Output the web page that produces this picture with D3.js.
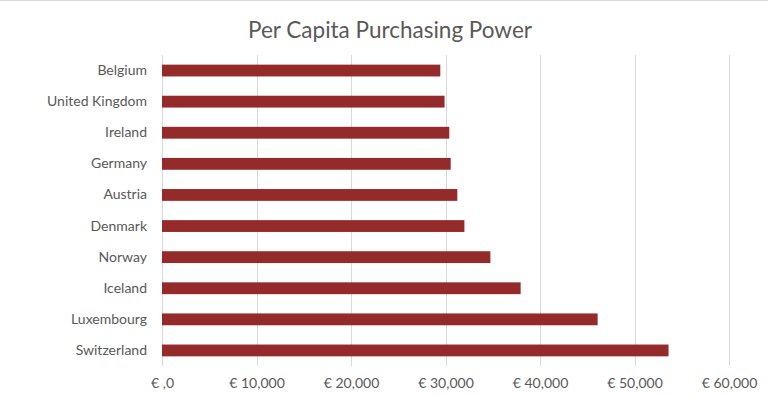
<!DOCTYPE html>
<html lang="en">
<head>
<meta charset="UTF-8">
<script src="https://d3js.org/d3.v7.min.js"></script>
<style>
  body { margin: 0; background: #fff; }
  svg { display: block; font-family: Lato, "Open Sans", sans-serif; }
</style>
</head>
<body>
<div id="chart"></div>
<script>
// data
var countries = ["Belgium", "United Kingdom", "Ireland", "Germany", "Austria",
                 "Denmark", "Norway", "Iceland", "Luxembourg", "Switzerland"];
var power = [29450, 29900, 30400, 30550, 31250, 32000, 34750, 37950, 46100, 53600];
var tickValues = [0, 10000, 20000, 30000, 40000, 50000, 60000];
var tickLabels = ["€ ,0", "€ 10,000", "€ 20,000", "€ 30,000", "€ 40,000", "€ 50,000", "€ 60,000"];

var W = 768, H = 396;
var margin = {top: 55, right: 35, bottom: 30, left: 162};
var width = W - margin.left - margin.right,
    height = H - margin.top - margin.bottom;

var svg = d3.select("#chart").append("svg")
    .attr("width", W)
    .attr("height", H);

// thin frame line on top
svg.append("line")
    .attr("x1", 0).attr("x2", W)
    .attr("y1", 0.5).attr("y2", 0.5)
    .style("stroke", "#d9d9d9");

svg.append("text")
    .attr("x", 390)
    .attr("y", 38)
    .attr("text-anchor", "middle")
    .style("font-size", "22.5px")
    .style("fill", "#595959")
    .text("Per Capita Purchasing Power");

var g = svg.append("g")
    .attr("transform", "translate(" + margin.left + "," + margin.top + ")");

var x = d3.scaleLinear().domain([0, 60000]).range([0, 567]);
var y = d3.scaleBand().domain(countries).range([0, 311]).paddingInner(0.62).paddingOuter(0.31);

// gridlines
g.append("g")
    .selectAll("line")
    .data(tickValues)
    .enter().append("line")
      .attr("x1", function(d) { return Math.round(x(d)) + 0.5; })
      .attr("x2", function(d) { return Math.round(x(d)) + 0.5; })
      .attr("y1", 0)
      .attr("y2", 311)
      .style("stroke", "#d9d9d9");

// x axis labels
var xAxis = g.append("g")
    .attr("transform", "translate(0,311)")
    .call(d3.axisBottom(x).tickValues(tickValues).tickSize(0).tickPadding(12)
      .tickFormat(function(d, i) { return tickLabels[i]; }));
xAxis.select(".domain").remove();
xAxis.selectAll("text")
    .style("font-size", "14px")
    .style("fill", "#595959")
    .style("font-family", "Lato, 'Open Sans', sans-serif");

// y axis labels
var yAxis = g.append("g")
    .call(d3.axisLeft(y).tickSize(0).tickPadding(15));
yAxis.select(".domain").remove();
yAxis.selectAll("text")
    .style("font-size", "14px")
    .style("fill", "#595959")
    .style("font-family", "Lato, 'Open Sans', sans-serif");

// bars
g.selectAll(".bar")
    .data(countries)
    .enter().append("rect")
      .attr("class", "bar")
      .attr("x", x(0))
      .attr("y", function(d) { return y(d); })
      .attr("width", function(d, i) { return x(power[i]) - x(0); })
      .attr("height", y.bandwidth())
      .style("fill", "#952a2a");
</script>
</body>
</html>
